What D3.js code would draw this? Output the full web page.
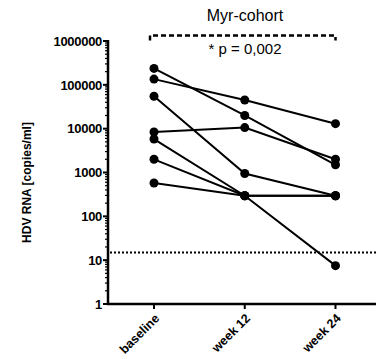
<!DOCTYPE html>
<html><head><meta charset="utf-8">
<script src="https://cdn.jsdelivr.net/npm/d3@7"></script>
<style>body{margin:0;background:#fff}svg{display:block}</style>
</head><body>
<script>
const categories = ["baseline", "week 12", "week 24"];
const patient1 = [237000, 20000, 1500];
const patient2 = [135000, 45000, 13000];
const patient3 = [55000, 950, 295];
const patient4 = [8400, 10600, 2000];
const patient5 = [5800, 295, 7.5];
const patient6 = [2000, 295, 295];
const patient7 = [575, 295, 295];
const series = [patient1, patient2, patient3, patient4, patient5, patient6, patient7];
const yTickValues = [1, 10, 100, 1000, 10000, 100000, 1000000];
const detectionLimit = 15;
const titleText = "Myr-cohort";
const pText = "* p = 0,002";
const yLabel = "HDV RNA [copies/ml]";

const W = 376, H = 359;
const svg = d3.select("body").append("svg").attr("width", W).attr("height", H);
const axisX = 108, y0 = 304, y1 = 41;
const x = d3.scalePoint().domain(categories).range([154, 335.5]);
const y = d3.scaleLog().domain([1, 1000000]).range([y0, y1]);
const font = "Liberation Sans, Arial, sans-serif";

// y axis
const minorTicks = [];
for (let e = 0; e < 6; e++) for (let m = 2; m <= 9; m++) minorTicks.push(m * Math.pow(10, e));
const gy = svg.append("g");
gy.selectAll("line.minor").data(minorTicks).join("line")
  .attr("x1", axisX - 3).attr("x2", axisX).attr("y1", d => y(d)).attr("y2", d => y(d))
  .attr("stroke", "#000").attr("stroke-width", 1.2);
gy.selectAll("line.major").data(yTickValues).join("line")
  .attr("x1", axisX - 5).attr("x2", axisX).attr("y1", d => y(d)).attr("y2", d => y(d))
  .attr("stroke", "#000").attr("stroke-width", 2);
gy.selectAll("text").data(yTickValues).join("text")
  .attr("x", axisX - 6).attr("y", d => y(d)).attr("dy", "0.36em")
  .attr("text-anchor", "end").attr("font-family", font).attr("font-weight", "bold")
  .attr("font-size", 13).attr("letter-spacing", -0.3).text(d => d);
gy.append("line").attr("x1", axisX).attr("x2", axisX).attr("y1", y1 - 1).attr("y2", y0 + 1)
  .attr("stroke", "#000").attr("stroke-width", 2.5);

// x axis
const gx = svg.append("g");
gx.append("line").attr("x1", axisX - 1).attr("x2", W).attr("y1", y0).attr("y2", y0)
  .attr("stroke", "#000").attr("stroke-width", 2.5);
gx.selectAll("line.t").data(categories).join("line")
  .attr("x1", d => x(d)).attr("x2", d => x(d)).attr("y1", y0).attr("y2", y0 + 5)
  .attr("stroke", "#000").attr("stroke-width", 2);
gx.selectAll("text").data(categories).join("text")
  .attr("transform", d => `translate(${x(d) + 3},${y0 + 12}) rotate(-45)`)
  .attr("text-anchor", "end").attr("dy", "0.35em").attr("font-family", font)
  .attr("font-weight", "bold").attr("font-size", 12.5).text(d => d);

// y label
svg.append("text").attr("transform", `translate(31,${(y0 + y1) / 2 + 10}) rotate(-90)`)
  .attr("text-anchor", "middle").attr("font-family", font).attr("font-weight", "bold")
  .attr("font-size", 12).text(yLabel);

// detection limit
svg.append("line").attr("x1", axisX + 2).attr("x2", W).attr("y1", y(detectionLimit)).attr("y2", y(detectionLimit))
  .attr("stroke", "#000").attr("stroke-width", 2).attr("stroke-dasharray", "2,2");

// lines and dots
const line = d3.line().x((d, i) => x(categories[i])).y(d => y(d));
svg.selectAll("path.s").data(series).join("path")
  .attr("d", line).attr("fill", "none").attr("stroke", "#000").attr("stroke-width", 2);
series.forEach(s => {
  svg.append("g").selectAll("circle").data(s).join("circle")
    .attr("cx", (d, i) => x(categories[i])).attr("cy", d => y(d)).attr("r", 4.5).attr("fill", "#000");
});

// title
svg.append("text").attr("x", 245).attr("y", 21).attr("text-anchor", "middle")
  .attr("font-family", font).attr("font-size", 16).text(titleText);

// bracket
const bx1 = x(categories[0]) - 4, bx2 = x(categories[2]), by = 35.5;
svg.append("path").attr("d", `M${bx1},${by + 5}V${by}H${bx2}V${by + 5}`)
  .attr("fill", "none").attr("stroke", "#000").attr("stroke-width", 2.5).attr("stroke-dasharray", "5,3");
svg.append("text").attr("x", 245).attr("y", 54).attr("text-anchor", "middle")
  .attr("font-family", font).attr("font-size", 15).text(pText);
</script>
</body></html>
